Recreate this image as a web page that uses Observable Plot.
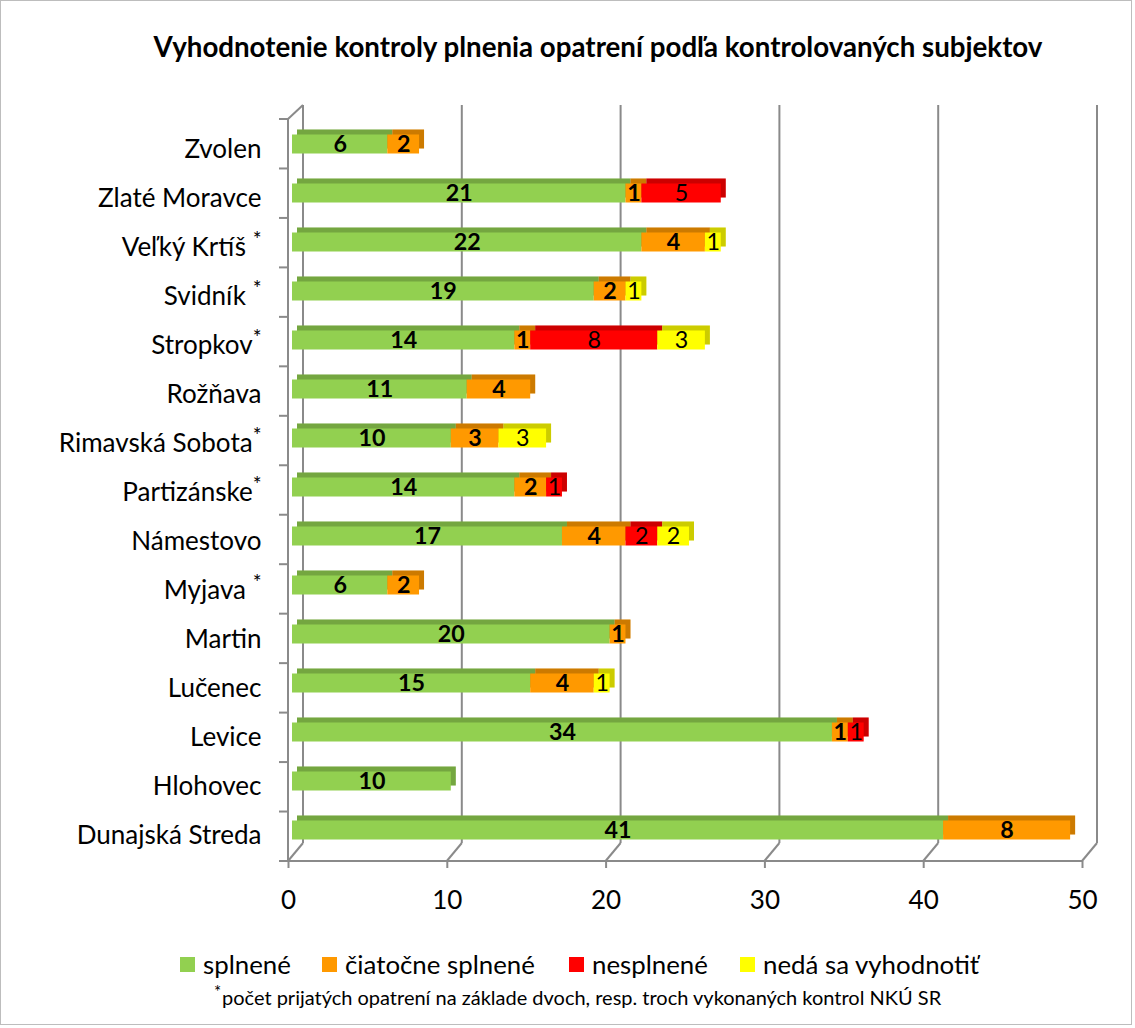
<!DOCTYPE html>
<html>
<head>
<meta charset="utf-8">
<script src="https://cdn.jsdelivr.net/npm/d3@7"></script>
<script src="https://cdn.jsdelivr.net/npm/@observablehq/plot@0.6"></script>
<style>
  html, body { margin: 0; padding: 0; background: #fff; overflow: hidden; }
  #page { position: relative; width: 1135px; height: 1028px; font-family: Lato, "Open Sans", sans-serif; }
  #border { position: absolute; left: 0; top: 0; width: 1130px; height: 1023px; border: 1px solid #bdbdbd; pointer-events: none; }
  #head, #chart, #foot { position: absolute; left: 0; }
  #head { top: 0; }
  #chart { top: 90px; }
  #foot { top: 940px; }
  svg { display: block; }
</style>
</head>
<body>
<div id="page">
  <div id="head"></div>
  <div id="chart"></div>
  <div id="foot"></div>
  <div id="border"></div>
</div>
<script>
(function() {
// ---- data ----
const titleText = "Vyhodnotenie kontroly plnenia opatrení podľa kontrolovaných subjektov";
const categories = ["Zvolen", "Zlaté Moravce", "Veľký Krtíš *", "Svidník *", "Stropkov*", "Rožňava",
  "Rimavská Sobota*", "Partizánske*", "Námestovo", "Myjava *", "Martin", "Lučenec", "Levice",
  "Hlohovec", "Dunajská Streda"];
const series = ["splnené", "čiatočne splnené", "nesplnené", "nedá sa vyhodnotiť"];
const splnene   = [6, 21, 22, 19, 14, 11, 10, 14, 17, 6, 20, 15, 34, 10, 41];
const ciatocne  = [2, 1, 4, 2, 1, 4, 3, 2, 4, 2, 1, 4, 1, 0, 8];
const nesplnene = [0, 5, 0, 0, 8, 0, 0, 1, 2, 0, 0, 0, 1, 0, 0];
const nedaSa    = [0, 0, 1, 1, 3, 0, 3, 0, 2, 0, 0, 1, 0, 0, 0];
const xTicks = [0, 10, 20, 30, 40, 50];
const boldSeries = ["splnené", "čiatočne splnené"];
const noteText = "počet prijatých opatrení na základe dvoch, resp. troch vykonaných kontrol NKÚ SR";

// ---- styles ----
const colors = ["#92D050", "#FF9900", "#FF0000", "#FFFF00"];
const FONT = "Lato";
const gridColor = "#8a8a8a";

function fit(text, weight, target) {
  const c = document.createElement("canvas").getContext("2d");
  c.font = `${weight} 100px ${FONT}`;
  return 100 * target / c.measureText(text).width;
}
const labelSize = fit("Dunajská Streda", "400", 185);
const barLabelSize = fit("41", "700", 27);
const titleSize = fit(titleText, "700", 890);
const legendSize = fit("čiatočne splnené", "400", 190);
const noteSize = fit(noteText, "400", 720);

const rows = [];
const seriesArrays = [splnene, ciatocne, nesplnene, nedaSa];
categories.forEach((c, i) => {
  seriesArrays.forEach((arr, j) => {
    if (arr[i] > 0) rows.push({cat: c, series: series[j], value: arr[i]});
  });
});

const BAR_DY = -3.5, DEPTH = 5;

const plot = Plot.plot({
  width: 1135,
  height: 850,
  marginTop: 29,
  marginBottom: 79,
  marginLeft: 292,
  marginRight: 49,
  x: {domain: [0, 50], label: null},
  y: {domain: categories, paddingInner: 0.616, paddingOuter: 0.308, label: null},
  color: {domain: series, range: colors},
  style: {fontFamily: FONT, color: "#000", background: "transparent", overflow: "visible"},
  marks: [
    // depth faces
    Plot.barX(rows, Plot.stackX({x: "value", y: "cat", fill: "series", dx: DEPTH, dy: BAR_DY - DEPTH})),
    Plot.barX(rows, Plot.stackX({x: "value", y: "cat", fill: "#000", fillOpacity: 0.2, dx: DEPTH, dy: BAR_DY - DEPTH})),
    // front faces
    Plot.barX(rows, Plot.stackX({x: "value", y: "cat", fill: "series", dy: BAR_DY})),
    // value labels
    Plot.text(rows, Plot.stackX({x: "value", y: "cat", text: d => boldSeries.includes(d.series) ? String(d.value) : "",
      fill: "#000", fontWeight: "bold", fontSize: barLabelSize, dy: BAR_DY + 0.5})),
    Plot.text(rows, Plot.stackX({x: "value", y: "cat", text: d => boldSeries.includes(d.series) ? "" : String(d.value),
      fill: "#000", fontWeight: "normal", fontSize: barLabelSize, dy: BAR_DY + 0.5})),
    Plot.axisY({tickSize: 0, tickPadding: 31, fontSize: labelSize, dy: 1.5, fill: "#000"}),
    Plot.axisX({ticks: xTicks, tickSize: 7, tickPadding: 22, dx: -4, stroke: gridColor, strokeWidth: 2,
      fontSize: labelSize, fill: "#000", tickFormat: d => String(d)})
  ]
});

// ---- 3D frame drawn from the plot's own scales ----
const sx = plot.scale("x"), sy = plot.scale("y");
const X = v => sx.apply(v);
const yTop = sy.range[0], yBottom = sy.range[1];
const step = (yBottom - yTop) / categories.length;
const FRONT = -4, BACKX = 11, BACK_TOP = 15, BACK_BOTTOM = 753;
const svg = d3.select(plot);
const g = svg.insert("g", "g").attr("stroke", gridColor).attr("stroke-width", 2).attr("fill", "none");
xTicks.forEach(v => {
  g.append("line").attr("x1", X(v) + BACKX).attr("x2", X(v) + BACKX).attr("y1", BACK_TOP).attr("y2", BACK_BOTTOM);
  g.append("line").attr("x1", X(v) + FRONT).attr("x2", X(v) + BACKX).attr("y1", yBottom).attr("y2", BACK_BOTTOM);
});
g.append("line").attr("x1", X(0) + FRONT).attr("x2", X(50) + FRONT).attr("y1", yBottom).attr("y2", yBottom);
g.append("line").attr("x1", X(0) + FRONT).attr("x2", X(0) + FRONT).attr("y1", yTop).attr("y2", yBottom);
g.append("line").attr("x1", X(0) + FRONT).attr("x2", X(0) + BACKX).attr("y1", yTop).attr("y2", BACK_TOP);
for (let k = 0; k <= categories.length; k++) {
  const y = yTop + k * step;
  g.append("line").attr("x1", X(0) + FRONT - 9).attr("x2", X(0) + FRONT).attr("y1", y).attr("y2", y);
}
// superscript asterisks in category labels
svg.selectAll('g[aria-label="y-axis tick label"] text').each(function() {
  const t = d3.select(this);
  const s = t.text();
  if (s.includes("*")) {
    const base = s.replace("*", "");
    t.text(base);
    t.append("tspan").attr("dy", "-0.42em").attr("font-size", "0.8em").text("*");
  }
});
document.getElementById("chart").appendChild(plot);

// ---- title ----
const head = d3.select("#head").append("svg").attr("width", 1135).attr("height", 90);
head.append("text").attr("x", 598).attr("y", 57).attr("text-anchor", "middle")
  .attr("font-family", FONT).attr("font-weight", "bold").attr("font-size", titleSize).text(titleText);

// ---- legend & note ----
const foot = d3.select("#foot").append("svg").attr("width", 1135).attr("height", 88);
const legendX = [180, 322, 569, 740];
series.forEach((s, i) => {
  foot.append("rect").attr("x", legendX[i]).attr("y", 17).attr("width", 15).attr("height", 15).attr("fill", colors[i]);
  foot.append("text").attr("x", legendX[i] + 23).attr("y", 34).attr("font-family", FONT)
    .attr("font-size", legendSize).attr("fill", "#000").text(s);
});
foot.append("text").attr("x", 214).attr("y", 58).attr("font-family", FONT).attr("font-size", noteSize * 0.85).text("*");
foot.append("text").attr("x", 222).attr("y", 65).attr("font-family", FONT).attr("font-size", noteSize).text(noteText);
})();
</script>
</body>
</html>
